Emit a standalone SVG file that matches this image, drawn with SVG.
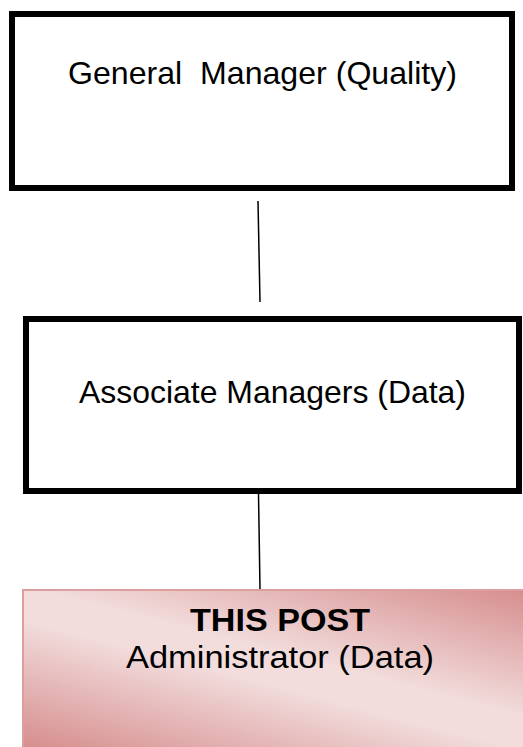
<svg xmlns="http://www.w3.org/2000/svg" width="523" height="747" viewBox="0 0 523 747">
  <defs>
    <linearGradient id="postGrad" gradientUnits="userSpaceOnUse" x1="305" y1="535" x2="236" y2="800">
      <stop offset="0" stop-color="#d78f8f"/>
      <stop offset="0.44" stop-color="#f2dcdc"/>
      <stop offset="0.56" stop-color="#f2dcdc"/>
      <stop offset="1" stop-color="#d78f8f"/>
    </linearGradient>
    <style>
      .box { fill: #ffffff; stroke: #000000; stroke-width: 6; }
      .label { font-family: "Liberation Sans", Arial, sans-serif; font-size: 32px; fill: #000000; text-anchor: middle; }
      .bold { font-weight: bold; }
      .conn { stroke: #000000; stroke-width: 1.5; fill: none; }
    </style>
  </defs>
  <rect width="523" height="747" fill="#ffffff"/>
  <g id="connectors">
    <line class="conn" x1="258" y1="201" x2="260" y2="302"/>
    <line class="conn" x1="258.5" y1="494" x2="260" y2="589"/>
  </g>
  <g id="general-manager">
    <rect class="box" x="12" y="14" width="500" height="174"/>
    <text class="label" x="262.5" y="84" xml:space="preserve" textLength="389" lengthAdjust="spacingAndGlyphs">General  Manager (Quality)</text>
  </g>
  <g id="associate-managers">
    <rect class="box" x="26" y="319" width="493" height="172"/>
    <text class="label" x="272.5" y="403" textLength="387" lengthAdjust="spacingAndGlyphs">Associate Managers (Data)</text>
  </g>
  <g id="this-post">
    <rect x="23" y="590" width="513" height="170" fill="url(#postGrad)" stroke="#dc9e9e" stroke-width="2"/>
    <text class="label bold" x="280" y="631" textLength="180" lengthAdjust="spacingAndGlyphs">THIS POST</text>
    <text class="label" x="280" y="668" textLength="308" lengthAdjust="spacingAndGlyphs">Administrator (Data)</text>
  </g>
</svg>
